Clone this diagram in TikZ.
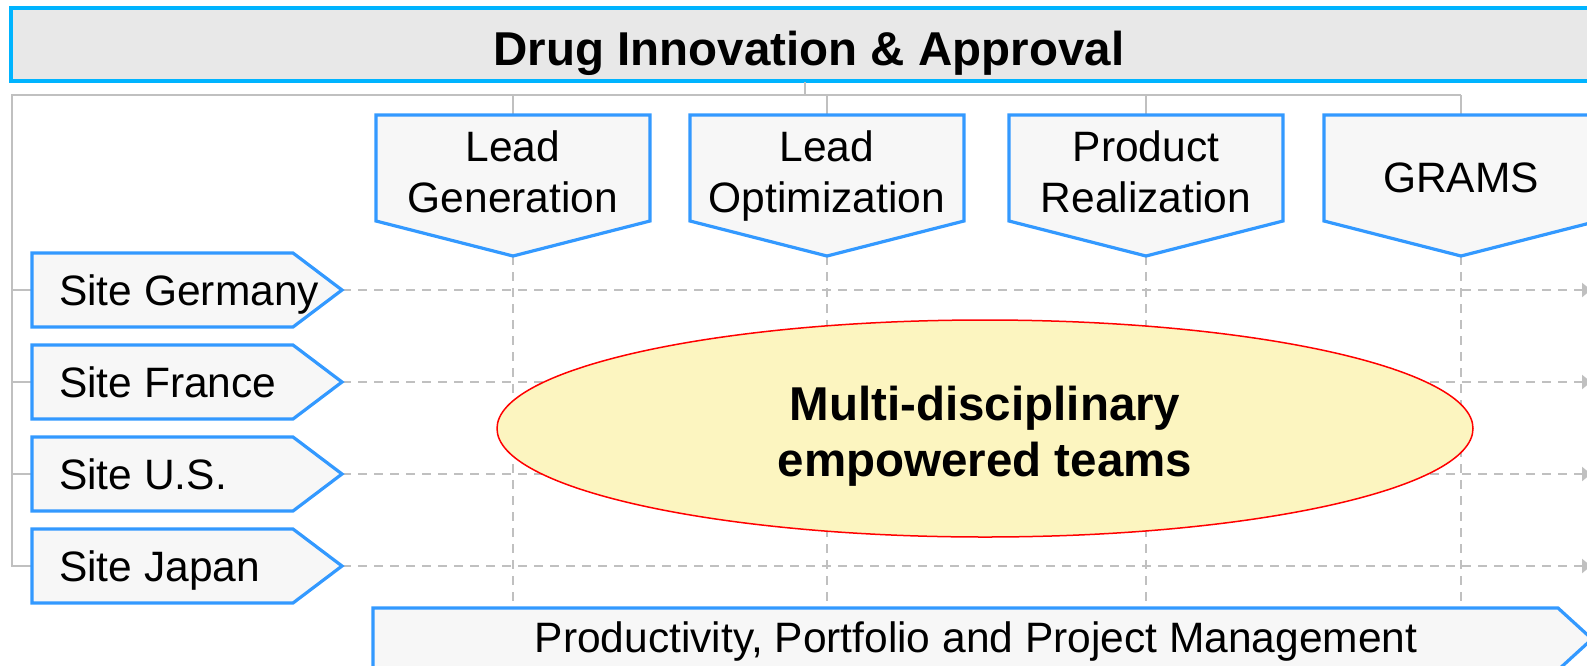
\documentclass[tikz,border=0pt]{standalone}
\usepackage{fontspec}
\setmainfont{Liberation Sans}
\usetikzlibrary{arrows.meta}
\definecolor{boxblue}{RGB}{51,153,255}
\definecolor{titleblue}{RGB}{0,180,255}
\definecolor{boxfill}{RGB}{247,247,247}
\definecolor{titlefill}{RGB}{232,232,232}
\definecolor{linegray}{RGB}{192,192,192}
\definecolor{ellfill}{RGB}{252,245,192}
\tikzset{
  stepshape/.style={draw=boxblue, line width=3.2pt, fill=boxfill, line join=miter},
  bracket/.style={draw=linegray, line width=2.2pt},
  guide/.style={draw=linegray, line width=2.5pt, dash pattern=on 9pt off 7pt},
  guidearrow/.style={guide, -{Triangle[length=9pt,width=14pt]}},
  lbl/.style={inner sep=0pt, anchor=base, font=\fontsize{42.5}{50}\selectfont},
  bold/.style={inner sep=0pt, anchor=base, font=\fontsize{47.5}{56}\selectfont\bfseries},
}
\begin{document}
\begin{tikzpicture}[x=1pt,y=-1pt]
\useasboundingbox (0,0) rectangle (1587,665);
% title
\draw[draw=titleblue, line width=3.5pt, fill=titlefill] (11,8) rectangle (1608,81);
\node[bold] (title) at (809,65) {Drug Innovation \& Approval};
\coordinate (titlebot) at (805,82);
% bracket
\coordinate (brk) at (805,95);
\coordinate (brl) at (12,95);
\coordinate (brr) at (1461,95);
\draw[bracket] (titlebot) -- (brk);
\draw[bracket] (brr) -- (brl) -- (12,566) -- (32,566);
\foreach \y in {290,382,474} \draw[bracket] (12,\y) -- (32,\y);
% phase boxes
\foreach \cx/\nm in {513/lg,827/lo,1146/pr,1461/gr}{
  \draw[bracket] (\cx,95) -- (\cx,116);
  \coordinate (\nm tip) at (\cx,256);
  \coordinate (\nm end) at (\cx,608);
  \draw[guide] (\nm tip) -- (\nm end);
}
% site rows dashed
\foreach \cy/\nm in {290/de,382/fr,474/us,566/jp}{
  \coordinate (\nm tip) at (342,\cy);
  \coordinate (\nm end) at (1591,\cy);
  \draw[guidearrow] (\nm tip) -- (\nm end);
}
\foreach \cx in {513,827,1146,1461}{
  \draw[stepshape] (\cx-137,115) -- (\cx+137,115) -- (\cx+137,221) -- (\cx,256) -- (\cx-137,221) -- cycle;
}
\node[lbl] (lg1) at (513,161) {Lead};
\node[lbl] (lg2) at (513,212) {Generation};
\node[lbl] (lo1) at (827,161) {Lead};
\node[lbl] (lo2) at (827,212) {Optimization};
\node[lbl] (pr1) at (1146,161) {Product};
\node[lbl] (pr2) at (1146,212) {Realization};
\node[lbl] (gr) at (1461,192) {GRAMS};
% site boxes
\foreach \cy in {290,382,474,566}{
  \draw[stepshape] (32,\cy-37) -- (293,\cy-37) -- (342,\cy) -- (293,\cy+37) -- (32,\cy+37) -- cycle;
}
\node[lbl, anchor=base west] (de) at (59,305) {Site Germany};
\node[lbl, anchor=base west] (fr) at (59,397) {Site France};
\node[lbl, anchor=base west] (us) at (59,489) {Site U.S.};
\node[lbl, anchor=base west] (jp) at (59,581) {Site Japan};
% bottom box
\draw[stepshape] (373,608) -- (1558,608) -- (1592,639) -- (1558,670) -- (373,670) -- cycle;
\node[lbl] (ppm) at (976,652) {Productivity, Portfolio and Project Management};
% ellipse
\draw[draw=red, line width=1.5pt, fill=ellfill] (985,428.5) ellipse [x radius=488, y radius=108.5];
\node[bold] (team1) at (985,420) {Multi-disciplinary};
\node[bold] (team2) at (985,476) {empowered teams};
\end{tikzpicture}
\end{document}
